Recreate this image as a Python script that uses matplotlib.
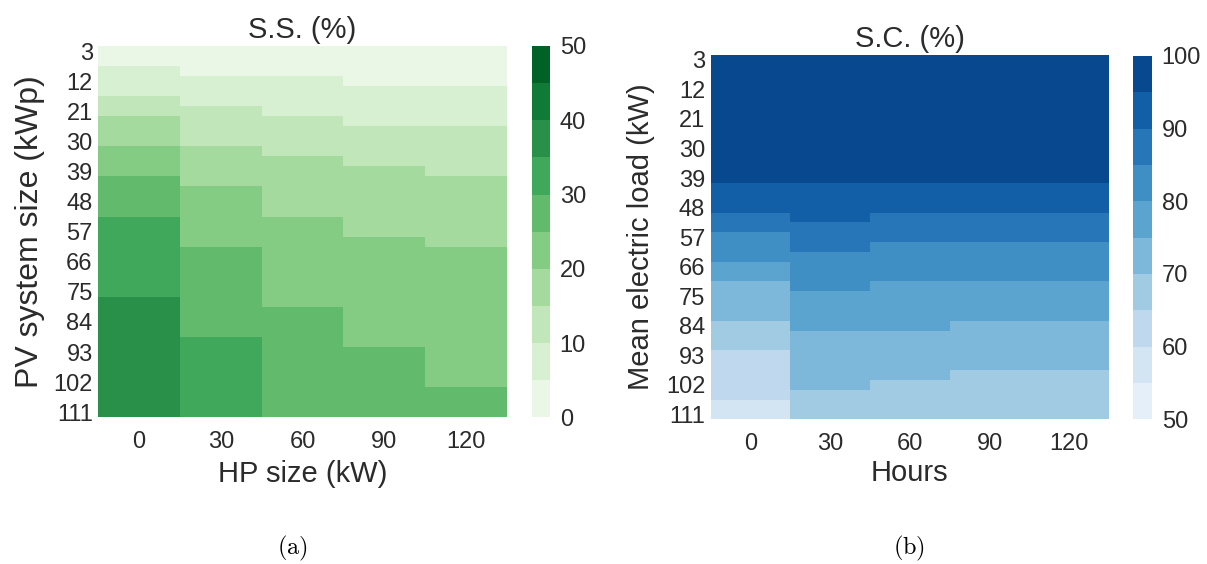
import numpy as np
import matplotlib
matplotlib.use("Agg")
import matplotlib.pyplot as plt
from matplotlib.colors import ListedColormap

# ---------------------------------------------------------------------------
# Data
# ---------------------------------------------------------------------------
# Row categories (PV system size in kWp / mean electric load in kW)
pv_sizes = [3, 6, 9, 12, 15, 18, 21, 24, 27, 30, 33, 36, 39, 42, 45, 48, 51, 54,
            57, 60, 63, 66, 69, 72, 75, 78, 81, 84, 87, 90, 93, 96, 99, 102, 105,
            108, 111]
load_means = pv_sizes
# Column categories
hp_sizes = [0, 30, 60, 90, 120]
hours = [0, 30, 60, 90, 120]

# Self-sufficiency (%) for each HP size, one value per PV size
ss_hp0 = [2.5, 2.5, 7.5, 7.5, 7.5, 12.5, 12.5, 17.5, 17.5, 17.5, 22.5, 22.5,
          22.5, 27.5, 27.5, 27.5, 27.5, 32.5, 32.5, 32.5, 32.5, 32.5, 32.5,
          32.5, 32.5, 37.5, 37.5, 37.5, 37.5, 37.5, 37.5, 37.5, 37.5, 37.5,
          37.5, 37.5, 37.5]
ss_hp30 = [2.5, 2.5, 2.5, 7.5, 7.5, 7.5, 12.5, 12.5, 12.5, 12.5, 17.5, 17.5,
           17.5, 17.5, 22.5, 22.5, 22.5, 22.5, 22.5, 22.5, 27.5, 27.5, 27.5,
           27.5, 27.5, 27.5, 27.5, 27.5, 27.5, 32.5, 32.5, 32.5, 32.5, 32.5,
           32.5, 32.5, 32.5]
ss_hp60 = [2.5, 2.5, 2.5, 7.5, 7.5, 7.5, 7.5, 12.5, 12.5, 12.5, 12.5, 17.5,
           17.5, 17.5, 17.5, 17.5, 17.5, 22.5, 22.5, 22.5, 22.5, 22.5, 22.5,
           22.5, 22.5, 22.5, 27.5, 27.5, 27.5, 27.5, 27.5, 27.5, 27.5, 27.5,
           27.5, 27.5, 27.5]
ss_hp90 = [2.5, 2.5, 2.5, 2.5, 7.5, 7.5, 7.5, 7.5, 12.5, 12.5, 12.5, 12.5,
           17.5, 17.5, 17.5, 17.5, 17.5, 17.5, 17.5, 22.5, 22.5, 22.5, 22.5,
           22.5, 22.5, 22.5, 22.5, 22.5, 22.5, 22.5, 27.5, 27.5, 27.5, 27.5,
           27.5, 27.5, 27.5]
ss_hp120 = [2.5, 2.5, 2.5, 2.5, 7.5, 7.5, 7.5, 7.5, 12.5, 12.5, 12.5, 12.5,
            12.5, 17.5, 17.5, 17.5, 17.5, 17.5, 17.5, 17.5, 22.5, 22.5, 22.5,
            22.5, 22.5, 22.5, 22.5, 22.5, 22.5, 22.5, 22.5, 22.5, 22.5, 22.5,
            27.5, 27.5, 27.5]

# Self-consumption (%) for each storage duration, one value per load level
sc_h0 = [97.5, 97.5, 97.5, 97.5, 97.5, 97.5, 97.5, 97.5, 97.5, 97.5, 97.5,
         97.5, 97.5, 92.5, 92.5, 92.5, 87.5, 87.5, 82.5, 82.5, 82.5, 77.5,
         77.5, 72.5, 72.5, 72.5, 72.5, 67.5, 67.5, 67.5, 62.5, 62.5, 62.5,
         62.5, 62.5, 57.5, 57.5]
sc_h30 = [97.5, 97.5, 97.5, 97.5, 97.5, 97.5, 97.5, 97.5, 97.5, 97.5, 97.5,
          97.5, 97.5, 92.5, 92.5, 92.5, 92.5, 87.5, 87.5, 87.5, 82.5, 82.5,
          82.5, 82.5, 77.5, 77.5, 77.5, 77.5, 72.5, 72.5, 72.5, 72.5, 72.5,
          72.5, 67.5, 67.5, 67.5]
sc_h60 = [97.5, 97.5, 97.5, 97.5, 97.5, 97.5, 97.5, 97.5, 97.5, 97.5, 97.5,
          97.5, 97.5, 92.5, 92.5, 92.5, 87.5, 87.5, 87.5, 82.5, 82.5, 82.5,
          82.5, 77.5, 77.5, 77.5, 77.5, 77.5, 72.5, 72.5, 72.5, 72.5, 72.5,
          67.5, 67.5, 67.5, 67.5]
sc_h90 = [97.5, 97.5, 97.5, 97.5, 97.5, 97.5, 97.5, 97.5, 97.5, 97.5, 97.5,
          97.5, 97.5, 92.5, 92.5, 92.5, 87.5, 87.5, 87.5, 82.5, 82.5, 82.5,
          82.5, 77.5, 77.5, 77.5, 77.5, 72.5, 72.5, 72.5, 72.5, 72.5, 67.5,
          67.5, 67.5, 67.5, 67.5]
sc_h120 = [97.5, 97.5, 97.5, 97.5, 97.5, 97.5, 97.5, 97.5, 97.5, 97.5, 97.5,
           97.5, 97.5, 92.5, 92.5, 92.5, 87.5, 87.5, 87.5, 82.5, 82.5, 82.5,
           82.5, 77.5, 77.5, 77.5, 77.5, 72.5, 72.5, 72.5, 72.5, 72.5, 67.5,
           67.5, 67.5, 67.5, 67.5]

ss_ticks = [0, 10, 20, 30, 40, 50]
sc_ticks = [50, 60, 70, 80, 90, 100]

# ---------------------------------------------------------------------------
# Style
# ---------------------------------------------------------------------------
TEXT = "#2b2b2b"
plt.rcParams.update({
    "font.family": ["Liberation Sans", "DejaVu Sans"],
    "mathtext.fontset": "cm",
    "text.color": TEXT,
    "axes.labelcolor": TEXT,
    "xtick.color": TEXT,
    "ytick.color": TEXT,
})

TICK_FS = 17
LABEL_FS = 21
TITLE_FS = 21


def stepped_palette(name, n=10):
    """Discrete palette sampled from a sequential colormap, skipping both ends."""
    base = plt.get_cmap(name)
    return ListedColormap(base(np.linspace(0, 1, n + 2)[1:-1]))


def draw_heatmap(fig, ax_rect, cax_rect, columns, row_labels, col_labels,
                 cmap_name, vmin, vmax, cbar_ticks, title, xlabel, ylabel,
                 title_pad, ylabel_fs, xlabelpad, ylabelpad):
    ax = fig.add_axes(ax_rect)
    cax = fig.add_axes(cax_rect)
    data = np.column_stack([np.asarray(c, dtype=float) for c in columns])
    n_rows, n_cols = data.shape
    mesh = ax.pcolormesh(np.arange(n_cols + 1), np.arange(n_rows + 1), data,
                         cmap=stepped_palette(cmap_name), vmin=vmin, vmax=vmax,
                         edgecolors="face", linewidth=0)
    ax.set_xlim(0, n_cols)
    ax.set_ylim(n_rows, 0)
    ax.set_xticks(np.arange(n_cols) + 0.5, labels=[str(v) for v in col_labels])
    ax.set_yticks(np.arange(0, n_rows, 3) + 0.5,
                  labels=[str(v) for v in row_labels[::3]])
    ax.tick_params(length=0, labelsize=TICK_FS)
    ax.tick_params(axis="x", pad=10)
    ax.tick_params(axis="y", pad=4)
    for s in ax.spines.values():
        s.set_visible(False)
    ax.set_title(title, fontsize=TITLE_FS, pad=title_pad)
    ax.set_xlabel(xlabel, fontsize=LABEL_FS, labelpad=xlabelpad)
    ax.set_ylabel(ylabel, fontsize=ylabel_fs, labelpad=ylabelpad)

    cbar = fig.colorbar(mesh, cax=cax, ticks=cbar_ticks)
    cbar.outline.set_visible(False)
    cax.tick_params(length=0, pad=7, labelsize=TICK_FS)
    return ax, cax


W, H = 1207, 564
fig = plt.figure(figsize=(W / 100, H / 100), dpi=100)


def rect(x0, y0, x1, y1):
    return [x0 / W, 1 - y1 / H, (x1 - x0) / W, (y1 - y0) / H]


draw_heatmap(fig, rect(98.3, 46, 506.7, 417.3), rect(531.7, 46, 550, 417.3),
             [ss_hp0, ss_hp30, ss_hp60, ss_hp90, ss_hp120], pv_sizes, hp_sizes,
             "Greens", 0, 50, ss_ticks, "S.S. (%)", "HP size (kW)",
             "PV system size (kWp)", title_pad=6, ylabel_fs=23,
             xlabelpad=5, ylabelpad=6)

draw_heatmap(fig, rect(710.7, 55, 1109, 419.3), rect(1133, 56, 1152, 419.3),
             [sc_h0, sc_h30, sc_h60, sc_h90, sc_h120], load_means, hours,
             "Blues", 50, 100, sc_ticks, "S.C. (%)", "Hours",
             "Mean electric load (kW)", title_pad=6, ylabel_fs=21,
             xlabelpad=3, ylabelpad=8)

fig.text(292 / W, 1 - 548 / H, r"$\mathrm{(a)}$", ha="center", va="center",
         fontsize=17.5, color="black")
fig.text(909 / W, 1 - 548 / H, r"$\mathrm{(b)}$", ha="center", va="center",
         fontsize=17.5, color="black")

fig.savefig("out.png", dpi=100)
